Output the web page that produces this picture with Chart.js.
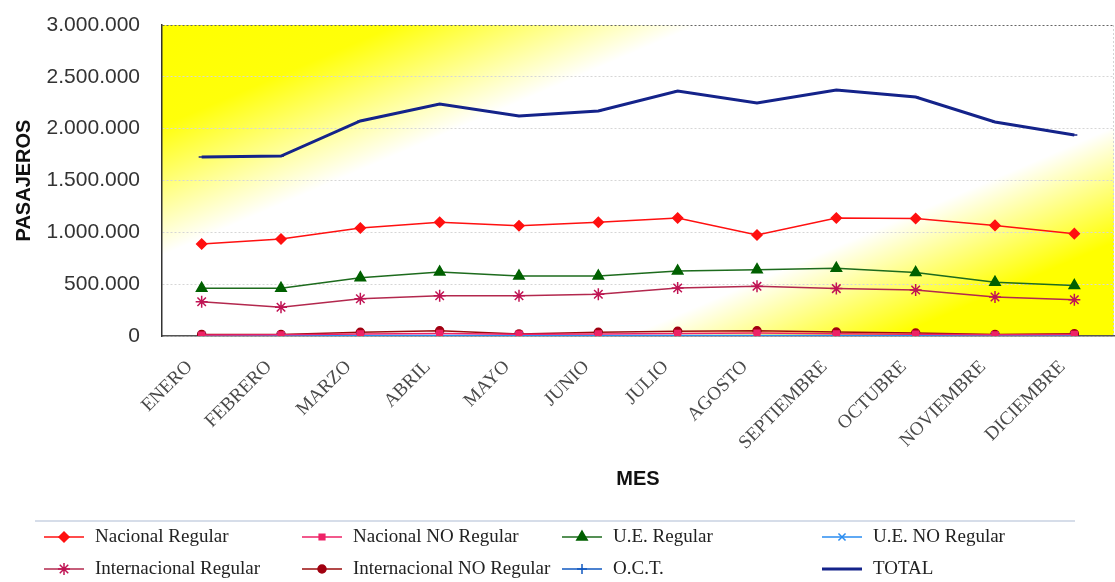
<!DOCTYPE html>
<html>
<head>
<meta charset="utf-8">
<script src="https://cdn.jsdelivr.net/npm/chart.js"></script>
<style>
  html, body { margin: 0; padding: 0; background: #fff; }
  #wrap { width: 1115px; height: 582px; }
</style>
</head>
<body>
<div id="wrap"><canvas id="pasajeros" width="1115" height="582"></canvas></div>
<script>
const meses = ['ENERO', 'FEBRERO', 'MARZO', 'ABRIL', 'MAYO', 'JUNIO', 'JULIO', 'AGOSTO', 'SEPTIEMBRE', 'OCTUBRE', 'NOVIEMBRE', 'DICIEMBRE'];

const nacionalRegular = [887000, 936000, 1042000, 1097000, 1063000, 1097000, 1138000, 974000, 1138000, 1133000, 1067000, 987000];
const nacionalNoRegular = [10000, 12000, 20000, 25000, 18000, 20000, 25000, 28000, 22000, 18000, 12000, 15000];
const ueRegular = [460000, 460000, 563000, 617000, 578000, 578000, 627000, 640000, 653000, 612000, 518000, 487000];
const ueNoRegular = [3000, 3000, 4000, 5000, 4000, 4000, 5000, 5000, 4000, 4000, 3000, 3000];
const internacionalRegular = [331000, 277000, 360000, 389000, 389000, 402000, 463000, 479000, 457000, 444000, 376000, 350000];
const internacionalNoRegular = [15000, 15000, 35000, 50000, 20000, 35000, 45000, 50000, 38000, 28000, 15000, 22000];
const octValues = [1000, 1000, 1500, 1500, 1200, 1200, 1500, 1500, 1200, 1200, 1000, 1000];
const totalValues = [1727000, 1736000, 2074000, 2238000, 2122000, 2170000, 2363000, 2248000, 2373000, 2305000, 2064000, 1939000];

const yTicks = [0, 500000, 1000000, 1500000, 2000000, 2500000, 3000000];

function miles(v) {
    return String(v).replace(/\B(?=(\d{3})+(?!\d))/g, '.');
}

function serie(label, data, color, style, radius, fill, width) {
    return {
        label: label,
        data: data,
        borderColor: color,
        backgroundColor: fill || color,
        borderWidth: width || 1.5,
        pointStyle: style,
        pointRadius: radius,
        pointBorderColor: fill || color,
        pointBackgroundColor: fill || color,
        pointBorderWidth: 1.5,
        tension: 0,
        fill: false
    };
}

// yellow / white / yellow diagonal wash behind the plot
const fondo = {
    id: 'fondo',
    beforeDraw(chart) {
        const { ctx, chartArea: { left, right, top, bottom } } = chart;
        const w = right - left, h = bottom - top;
        // bands run from lower left to upper right, slope about 0.43
        const len = Math.hypot(0.43, 1);
        const nx = 0.43 / len, ny = 1 / len;
        const d = nx * w + ny * h;
        const g = ctx.createLinearGradient(left, top, left + nx * d, top + ny * d);
        g.addColorStop(0, '#ffff00');
        g.addColorStop(0.14, '#ffff0a');
        g.addColorStop(0.32, '#ffffff');
        g.addColorStop(0.71, '#ffffff');
        g.addColorStop(0.87, '#ffff00');
        g.addColorStop(1, '#ffff00');
        ctx.save();
        ctx.fillStyle = '#ffffff';
        ctx.fillRect(0, 0, chart.width, chart.height);
        ctx.fillStyle = g;
        ctx.fillRect(left, top, w, h);
        ctx.restore();
    },
    afterDraw(chart) {
        const { ctx, chartArea: { right, top, bottom } } = chart;
        ctx.save();
        ctx.strokeStyle = '#d4d4d4';
        ctx.setLineDash([2, 2]);
        ctx.beginPath();
        ctx.moveTo(right - 0.5, top);
        ctx.lineTo(right - 0.5, bottom);
        ctx.stroke();
        ctx.restore();
    }
};

// legend in four fixed columns under a thin rule
const leyenda = {
    id: 'leyenda',
    afterDraw(chart) {
        const ctx = chart.ctx;
        const cols = [44, 302, 562, 822];
        const rows = [537, 569];
        ctx.save();
        ctx.strokeStyle = '#c9d2e2';
        ctx.lineWidth = 1.5;
        ctx.beginPath();
        ctx.moveTo(35, 521);
        ctx.lineTo(1075, 521);
        ctx.stroke();

        ctx.font = '19px "Liberation Serif", "Times New Roman", serif';
        ctx.textBaseline = 'middle';
        chart.data.datasets.forEach((ds, i) => {
            const x = cols[i % 4], y = rows[Math.floor(i / 4)];
            ctx.strokeStyle = ds.borderColor;
            ctx.lineWidth = ds.borderWidth;
            ctx.setLineDash([]);
            ctx.beginPath();
            ctx.moveTo(x, y);
            ctx.lineTo(x + 40, y);
            ctx.stroke();
            if (Chart.helpers && Chart.helpers.drawPoint && ds.pointStyle !== 'line') {
                ctx.fillStyle = ds.pointBackgroundColor;
                ctx.strokeStyle = ds.pointBorderColor;
                ctx.lineWidth = ds.pointBorderWidth;
                Chart.helpers.drawPoint(ctx, {
                    pointStyle: ds.pointStyle,
                    radius: ds.pointRadius,
                    rotation: 0,
                    borderWidth: ds.pointBorderWidth
                }, x + 20, y);
            }
            ctx.fillStyle = '#222';
            ctx.fillText(ds.label, x + 51, y);
        });
        ctx.restore();
    }
};

const datasets = [
    serie('Nacional Regular', nacionalRegular, '#ff1010', 'rectRot', 5),
    serie('Nacional NO Regular', nacionalNoRegular, '#ee2266', 'rect', 4),
    serie('U.E. Regular', ueRegular, '#1d6b1d', 'triangle', 6, '#006000'),
    serie('U.E. NO Regular', ueNoRegular, '#2a8cf0', 'crossRot', 5),
    serie('Internacional Regular', internacionalRegular, '#b3284e', 'star', 6, '#c01454'),
    serie('Internacional NO Regular', internacionalNoRegular, '#9a0c0c', 'circle', 4, '#a00010'),
    serie('O.C.T.', octValues, '#1058c0', 'cross', 5),
    serie('TOTAL', totalValues, '#14238a', 'line', 3, '#14238a', 3)
];

const ctx2d = document.getElementById('pasajeros').getContext('2d');
const chart = new Chart(ctx2d, {
    type: 'line',
    data: { labels: meses, datasets: datasets },
    plugins: [fondo, leyenda],
    options: {
        responsive: false,
        animation: false,
        devicePixelRatio: 1,
        layout: { autoPadding: false, padding: { left: 0, right: 1, top: 25, bottom: 90 } },
        plugins: {
            legend: { display: false },
            tooltip: { enabled: false }
        },
        scales: {
            x: {
                offset: true,
                grid: { display: false, drawTicks: false },
                border: { display: true, color: '#555', width: 1.5 },
                ticks: {
                    autoSkip: false,
                    minRotation: 45,
                    maxRotation: 45,
                    padding: 20,
                    labelOffset: -12,
                    color: '#4a4a4a',
                    font: { family: '"Liberation Serif", "Times New Roman", serif', size: 19 }
                },
                title: {
                    display: true,
                    text: 'MES',
                    color: '#111',
                    padding: { top: 0, bottom: 1 },
                    font: { family: '"Liberation Sans", Arial, sans-serif', size: 20, weight: 'bold' }
                },
                afterFit(scale) {
                    scale.height = 156;
                    scale.paddingLeft = 0;
                    scale.paddingRight = 0;
                }
            },
            y: {
                min: 0,
                max: 3000000,
                afterBuildTicks(scale) { scale.ticks = yTicks.map(v => ({ value: v })); },
                grid: {
                    drawTicks: false,
                    lineWidth: 1,
                    color: c => (c.tick && c.tick.value === 3000000) ? '#666' : '#d6d6d6'
                },
                border: { display: true, color: '#333', width: 1.5, dash: [2, 2] },
                ticks: {
                    padding: 22,
                    color: '#333',
                    font: { family: '"Liberation Sans", Arial, sans-serif', size: 21 },
                    callback: v => miles(v)
                },
                title: {
                    display: true,
                    text: 'PASAJEROS',
                    color: '#111',
                    padding: { top: 12, bottom: 0 },
                    font: { family: '"Liberation Sans", Arial, sans-serif', size: 20, weight: 'bold' }
                },
                afterFit(scale) {
                    scale.width = 162;
                    scale.paddingTop = 0;
                    scale.paddingBottom = 0;
                }
            }
        }
    }
});
</script>
</body>
</html>
